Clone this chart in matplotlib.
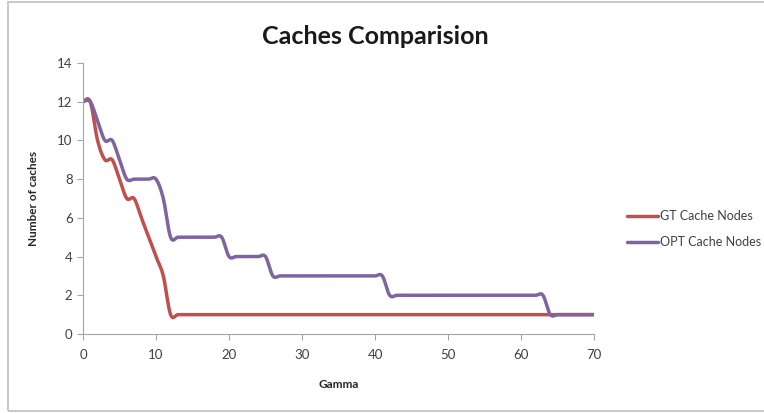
import numpy as np
import matplotlib.pyplot as plt
from matplotlib.patches import Rectangle

plt.rcParams['font.family'] = ['Lato', 'DejaVu Sans']

# cache counts sampled at every integer gamma 0..70
gamma = list(range(0, 71))
gt_nodes = [12, 12, 10, 9, 9, 8, 7, 7, 6, 5, 4, 3, 1] + [1] * 58
opt_nodes = ([12, 12, 11, 10, 10, 9, 8, 8, 8, 8, 8, 7]
             + [5] * 8      # 12..19
             + [4] * 6      # 20..25
             + [3] * 16     # 26..41
             + [2] * 22     # 42..63
             + [1] * 7)     # 64..70

x_ticks = [0, 10, 20, 30, 40, 50, 60, 70]
y_ticks = [0, 2, 4, 6, 8, 10, 12, 14]


def smooth_line(xs, ys, steps=16):
    """Bezier smoothing through every point (same idea as spreadsheet 'smoothed line')."""
    p = np.column_stack([xs, ys]).astype(float)
    pts = np.vstack([p[0], p, p[-1]])
    out = []
    t = np.linspace(0, 1, steps)[:, None]
    for i in range(1, len(pts) - 2):
        p0, p1 = pts[i], pts[i + 1]
        c1 = p0 + (pts[i + 1] - pts[i - 1]) / 6.0
        c2 = p1 - (pts[i + 2] - pts[i]) / 6.0
        seg = ((1 - t) ** 3) * p0 + 3 * ((1 - t) ** 2) * t * c1 \
            + 3 * (1 - t) * t ** 2 * c2 + t ** 3 * p1
        out.append(seg if i == 1 else seg[1:])
    out = np.vstack(out)
    return out[:, 0], out[:, 1]


fig = plt.figure(figsize=(7.64, 4.13), dpi=100)
ax = fig.add_axes([0.1086, 0.1913, 0.669, 0.6562])

gx, gy = smooth_line(gamma, gt_nodes)
ox, oy = smooth_line(gamma, opt_nodes)
ax.plot(gx, gy, color='#C0504D', linewidth=2.5, label='GT Cache Nodes',
        solid_capstyle='round')
ax.plot(ox, oy, color='#8064A2', linewidth=2.5, label='OPT Cache Nodes',
        solid_capstyle='round')

ax.set_xlim(0, 70)
ax.set_ylim(0, 14)
ax.set_xticks(x_ticks)
ax.set_yticks(y_ticks)
ax.tick_params(axis='both', colors='#A6A6A6', labelcolor='#404040',
               labelsize=9.5, length=4, width=0.8)
ax.tick_params(axis='x', pad=7)
for side in ('top', 'right'):
    ax.spines[side].set_visible(False)
for side in ('left', 'bottom'):
    ax.spines[side].set_color('#A6A6A6')
    ax.spines[side].set_linewidth(0.8)

ax.set_title('Caches Comparision', fontsize=18, fontweight='bold',
             color='#1a1a1a', pad=14, x=0.571)
ax.set_xlabel('Gamma', fontsize=8.5, fontweight='bold', color='#262626',
              labelpad=13)
ax.set_ylabel('Number of caches', fontsize=8.5, fontweight='bold',
              color='#262626', labelpad=13)

fig.legend(loc='center left', bbox_to_anchor=(0.806, 0.445), frameon=False,
           fontsize=9, handlelength=2.5, handletextpad=0.1,
           labelspacing=1.1, labelcolor='#404040')

# outer chart border
fig.patches.append(Rectangle((8 / 764, 2 / 413), 1.0, 409 / 413,
                             transform=fig.transFigure, fill=False,
                             edgecolor='#BFBFBF', linewidth=1.2))

fig.savefig('out.png', dpi=100)
